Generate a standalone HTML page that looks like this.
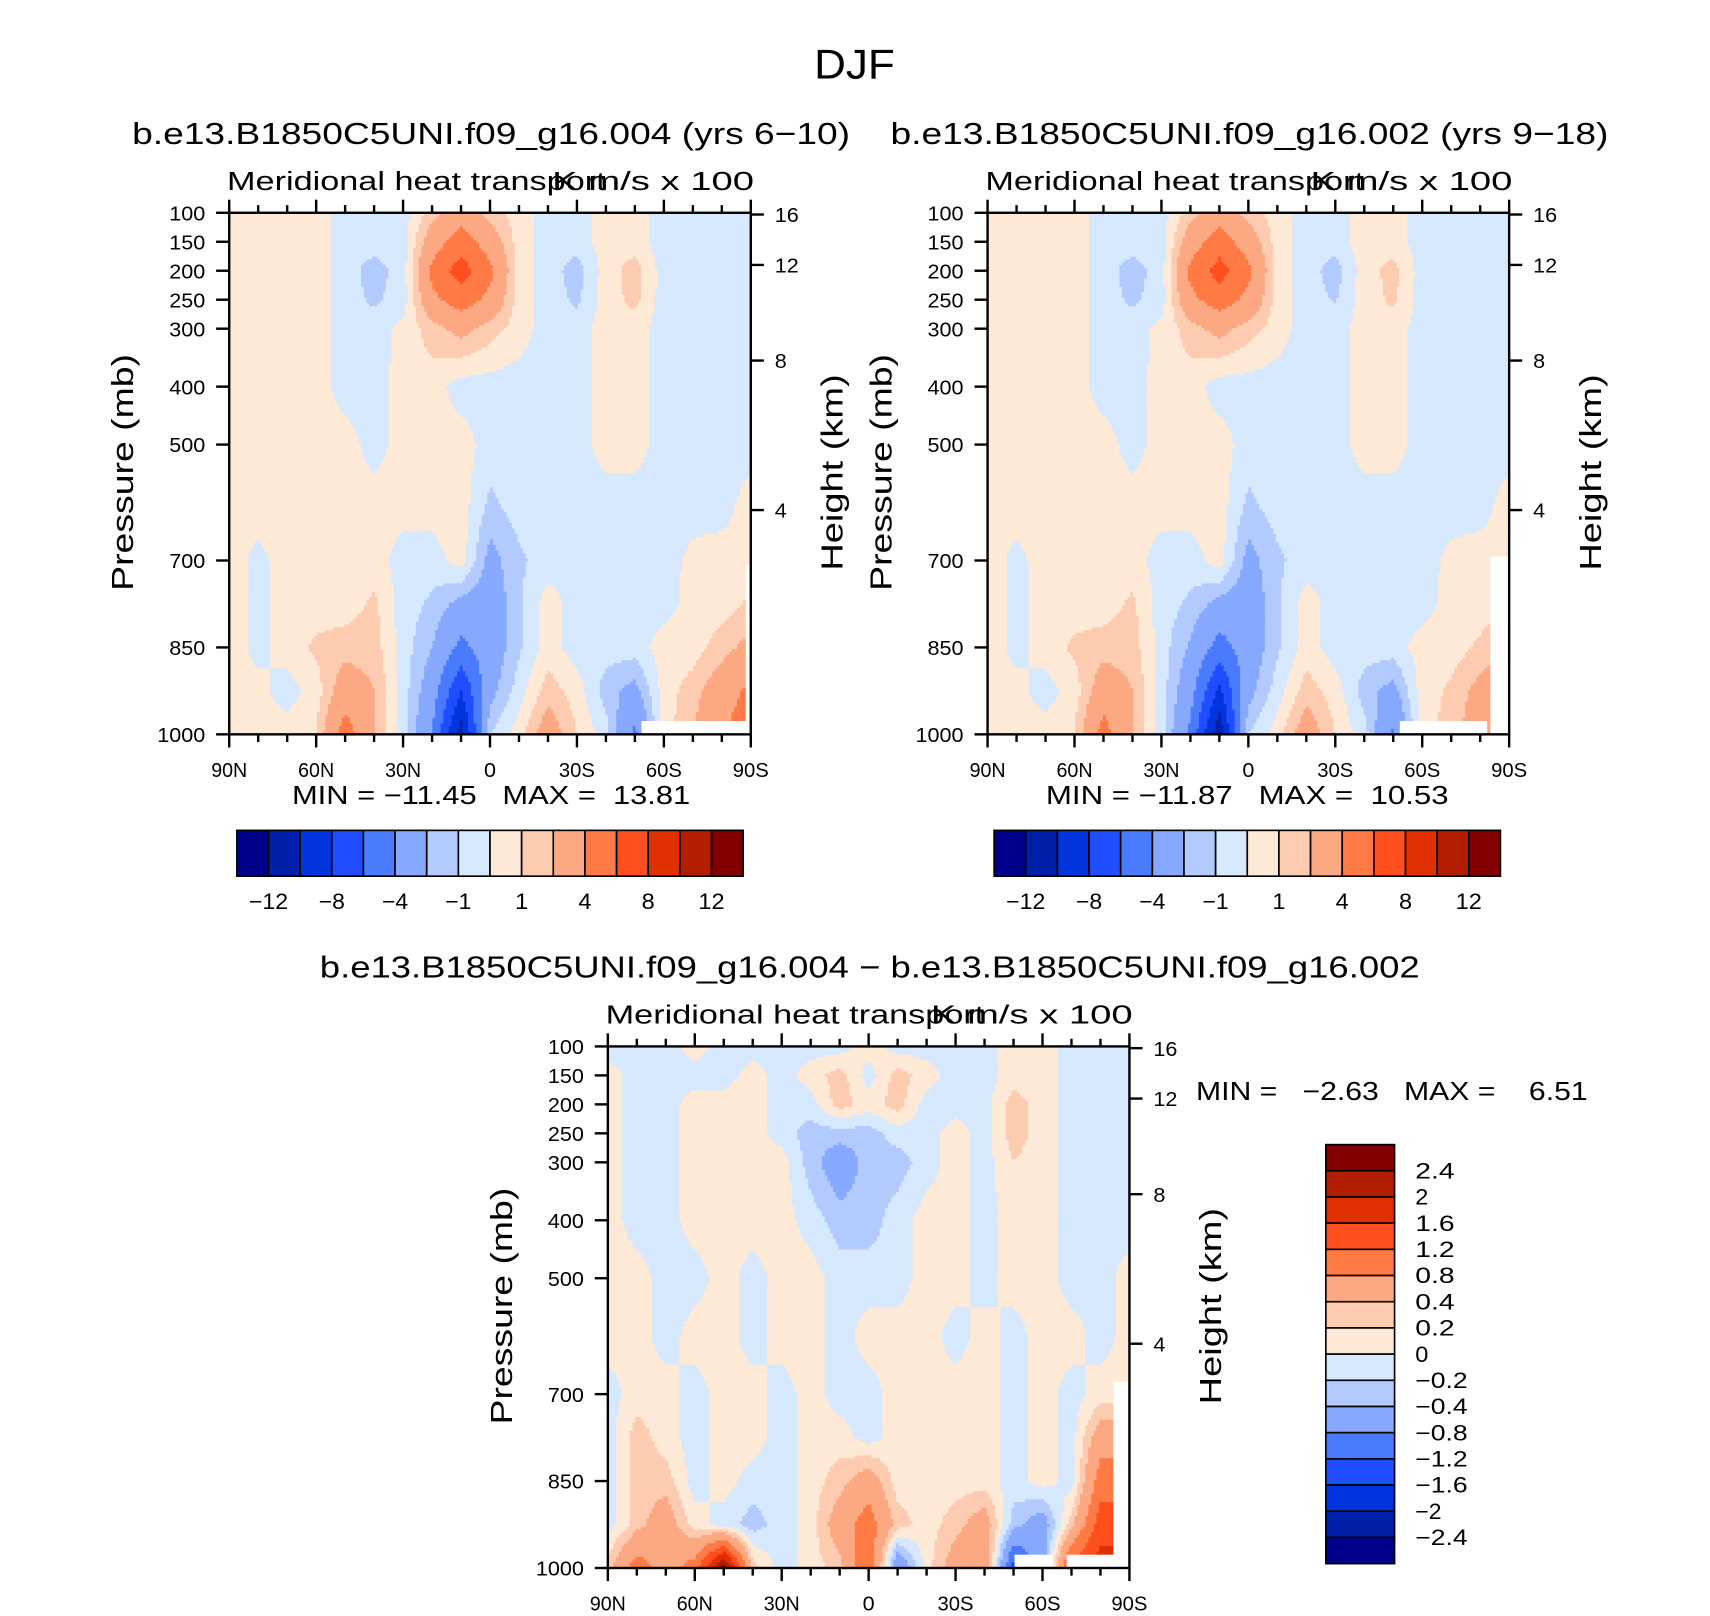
<!DOCTYPE html>
<html><head><meta charset="utf-8"><style>
html,body{margin:0;padding:0;background:#fff}
svg{display:block}
text{font-family:"Liberation Sans",sans-serif;fill:#000;white-space:pre}
</style></head><body>
<svg id="fig" width="1710" height="1616" viewBox="0 0 1567 1481" xmlns="http://www.w3.org/2000/svg" xml:space="preserve">
<text x="783" y="72" font-size="38" text-anchor="middle" textLength="74" lengthAdjust="spacingAndGlyphs">DJF</text>
<g id="g1"></g>
<g id="g2"></g>
<g id="g3"></g>
</svg>
<script>
const NS='http://www.w3.org/2000/svg';
const lats=[90,80,70,60,50,40,30,20,10,0,-10,-20,-30,-40,-50,-60,-70,-80,-90];
const pres=[100,150,200,250,300,400,500,600,700,775,850,925,1000];
const levelsAbs=[-12,-10,-8,-6,-4,-2,-1,0,1,2,4,6,8,10,12];
const levelsDiff=[-2.4,-2,-1.6,-1.2,-0.8,-0.4,-0.2,0,0.2,0.4,0.8,1.2,1.6,2,2.4];
const cbLabelsAbs=['−12','−8','−4','−1','1','4','8','12'];
const cbLabelsDiff=['2.4','2','1.6','1.2','0.8','0.4','0.2','0','−0.2','−0.4','−0.8','−1.2','−1.6','−2','−2.4'];
const colors=['#00008a','#0020aa','#0034dc','#1f4dff','#4a7bff','#86a8ff','#b3caff','#d6e8fd','#fee8d6','#fdcbb0','#fca883','#ff7a45','#ff4f1f','#e02f00','#b41e00','#820000'];
const latTicks=['90N','60N','30N','0','30S','60S','90S'];
const presTicks=[100,150,200,250,300,400,500,700,850,1000];
const heightTicks=[16,12,8,4];
const heightPres=[103,190,355,613];

const fieldA=[
[0.5,0.5,0.5,0.5,-0.5,-0.5,-0.5,1.5,3,1.5,0.5,-0.5,-0.5,0.5,0.5,-0.5,-0.5,-0.5,-0.5],
[0.5,0.5,0.5,0.5,-0.5,-0.5,-0.5,3,5,3,0.5,-0.5,-0.5,0.5,0.5,-0.5,-0.5,-0.5,-0.5],
[0.5,0.5,0.5,0.5,-0.5,-1.5,-0.5,4.5,7,4.5,0.5,-0.5,-1.5,0.5,1.5,-0.5,-0.5,-0.5,-0.5],
[0.5,0.5,0.5,0.5,-0.5,-1.2,-0.5,3.5,5,3.5,0.5,-0.5,-1.2,0.5,1.3,-0.5,-0.5,-0.5,-0.5],
[0.5,0.5,0.5,0.5,-0.5,-0.5,0.3,1.5,2.5,1.5,0.5,-0.5,-0.5,0.5,0.5,-0.5,-0.5,-0.5,-0.5],
[0.5,0.5,0.5,0.5,-0.5,-0.5,0.5,0.5,-0.5,-0.5,-0.5,-0.5,-0.5,0.5,0.5,-0.5,-0.5,-0.5,-0.5],
[0.5,0.5,0.5,0.5,0.5,-0.5,0.5,0.5,0.5,-0.5,-0.5,-0.5,-0.5,0.5,0.5,-0.5,-0.5,-0.5,-0.5],
[0.5,0.5,0.5,0.5,0.5,0.5,0.5,0.5,0.5,-1.2,-0.5,-0.5,-0.5,-0.5,-0.5,-0.5,-0.5,-0.5,0.5],
[0.5,-0.3,0.5,0.5,0.5,0.5,-0.5,-0.5,0.5,-2.5,-1.2,-0.5,-0.5,-0.5,-0.5,-0.5,0.3,0.5,0.5],
[0.5,-0.3,0.5,0.5,0.5,1.2,-0.5,-1.2,-2.5,-3,-1.2,0.5,-0.5,-0.5,-0.5,-0.5,0.5,0.5,1.2],
[0.5,-0.3,0.5,1.2,1.5,1.5,-0.5,-2,-4.5,-3,-1.2,0.5,-0.5,-0.5,-0.5,0.5,0.5,1.5,2.5],
[0.5,0.3,-0.5,0.5,3,2,-0.5,-3,-8,-2.5,-0.5,1.5,0.5,-1.5,-2.5,0.5,1.5,3,4.5],
[0.5,0.5,0.5,1,5,2,-0.5,-4,-11,-1,0.5,3,1,-0.5,-4.5,0.5,2,4,5]];
const fieldB=[
[0.5,0.5,0.5,0.5,-0.5,-0.5,-0.5,1.5,3,1.5,0.5,-0.5,-0.5,0.5,0.5,-0.5,-0.5,-0.5,-0.5],
[0.5,0.5,0.5,0.5,-0.5,-0.5,-0.5,3,5,3,0.5,-0.5,-0.5,0.5,0.5,-0.5,-0.5,-0.5,-0.5],
[0.5,0.5,0.5,0.5,-0.5,-1.5,-0.5,4.5,6.8,4.5,0.5,-0.5,-1.5,0.5,1.4,-0.5,-0.5,-0.5,-0.5],
[0.5,0.5,0.5,0.5,-0.5,-1.2,-0.5,3.5,5,3.5,0.5,-0.5,-1.1,0.5,1.2,-0.5,-0.5,-0.5,-0.5],
[0.5,0.5,0.5,0.5,-0.5,-0.5,0.3,1.5,2.5,1.5,0.5,-0.5,-0.5,0.5,0.5,-0.5,-0.5,-0.5,-0.5],
[0.5,0.5,0.5,0.5,-0.5,-0.5,0.5,0.5,-0.5,-0.5,-0.5,-0.5,-0.5,0.5,0.5,-0.5,-0.5,-0.5,-0.5],
[0.5,0.5,0.5,0.5,0.5,-0.5,0.5,0.5,0.5,-0.5,-0.5,-0.5,-0.5,0.5,0.5,-0.5,-0.5,-0.5,-0.5],
[0.5,0.5,0.5,0.5,0.5,0.5,0.5,0.5,0.5,-1.2,-0.5,-0.5,-0.5,-0.5,-0.5,-0.5,-0.5,-0.5,0.5],
[0.5,-0.3,0.5,0.5,0.5,0.5,-0.5,-0.5,0.5,-2.5,-1.2,-0.5,-0.5,-0.5,-0.5,-0.5,0.3,0.5,0.5],
[0.5,-0.3,0.5,0.5,0.5,1.2,-0.5,-1.2,-2.5,-3,-1.2,0.5,-0.5,-0.5,-0.5,-0.5,0.5,0.5,1.0],
[0.5,-0.3,0.5,1.2,1.5,1.5,-0.5,-2.2,-4.8,-3,-1.2,0.5,-0.5,-0.5,-0.5,0.5,0.5,1.2,2],
[0.5,0.3,-0.5,0.5,3,2,-0.5,-3.2,-8.5,-2.5,-0.5,1.5,0.5,-1.5,-2.5,0.5,1.2,2.5,3.5],
[0.5,0.5,0.5,1,4.8,2,-0.5,-4.5,-11.5,-1,0.5,3,1,-0.5,-4.3,0.5,1.5,3,4]];
const fieldC=[
[-0.1,-0.1,-0.1,0.1,-0.1,-0.1,-0.1,-0.1,-0.1,0.1,-0.1,-0.1,-0.1,-0.1,0.1,0.1,-0.1,-0.1,-0.1],
[0.1,-0.1,-0.1,-0.1,-0.1,0.1,-0.1,0.1,0.3,-0.1,0.3,0.1,-0.1,-0.1,0.1,0.1,-0.1,-0.1,-0.1],
[0.1,-0.1,-0.1,0.1,0.1,0.1,-0.1,-0.1,0.3,0.1,0.3,-0.1,-0.1,-0.1,0.3,0.1,-0.1,-0.1,-0.1],
[0.1,-0.1,-0.1,0.1,0.1,0.1,-0.1,-0.3,-0.3,-0.3,-0.1,-0.1,0.1,-0.1,0.3,0.1,-0.1,-0.1,-0.1],
[0.1,-0.1,-0.1,0.1,0.1,0.1,0.1,-0.3,-0.6,-0.3,-0.3,-0.1,0.1,-0.1,0.2,0.1,-0.1,-0.1,-0.1],
[0.1,-0.1,-0.1,0.1,0.1,0.1,0.1,-0.1,-0.3,-0.3,-0.1,0.1,0.1,-0.1,0.1,0.1,-0.1,-0.1,-0.1],
[0.1,0.1,-0.1,-0.1,0.1,-0.1,0.1,0.1,-0.1,-0.1,-0.1,0.1,0.1,-0.1,0.1,0.1,-0.1,-0.1,0.1],
[0.1,0.1,-0.1,0.1,0.1,-0.1,0.1,0.1,-0.1,0.1,0.1,0.1,-0.1,0.1,-0.1,0.1,0.1,-0.1,0.1],
[-0.1,0.1,0.1,-0.1,0.1,0.1,-0.1,0.1,-0.1,-0.1,0.1,0.1,0.1,0.1,-0.1,0.1,-0.1,0.1,0.1],
[-0.1,0.3,0.1,-0.1,0.1,0.1,-0.1,0.1,0.1,-0.1,0.1,0.1,0.1,0.1,-0.1,0.1,-0.1,0.6,0.6],
[-0.1,0.3,0.3,-0.1,0.1,-0.1,-0.1,0.1,0.3,0.6,0.1,0.1,0.1,0.1,-0.1,0.1,-0.1,1.0,1.0],
[-0.1,0.3,0.6,0.1,-0.1,-0.3,-0.1,0.1,0.6,1.0,0.3,0.1,0.3,0.6,-0.3,-0.6,0.3,1.4,1.4],
[0.3,1.0,0.6,1.0,2.6,0.3,-0.1,0.1,0.3,1.2,-0.8,0.1,0.6,0.8,-1.4,-0.6,1.4,1.8,1.8]];
const missingA=[[-52,-90,978,1000],[-88,-90,705,1000]];
const missingB=[[-52,-82,978,1000],[-83.5,-90,690,1000]];
const missingC=[[-50,-63,978,1000],[-84,-90,680,1000],[-68,-90,978,1000]];

function el(tag,attrs,parent){const e=document.createElementNS(NS,tag);for(const k in attrs)e.setAttribute(k,attrs[k]);parent.appendChild(e);return e;}
function txt(parent,x,y,s,size,anchor,name,len){const t=el('text',{x:x,y:y,'font-size':size,'text-anchor':anchor||'middle'},parent);t.textContent=s;
if(len){t.setAttribute('textLength',len);t.setAttribute('lengthAdjust','spacingAndGlyphs');}


return t;}
function sample(field,lat,p){
  let i=0;while(i<lats.length-2&&lat<lats[i+1])i++;
  let fx=(lats[i]-lat)/(lats[i]-lats[i+1]);
  let j=0;while(j<pres.length-2&&p>pres[j+1])j++;
  let fy=(p-pres[j])/(pres[j+1]-pres[j]);
  const a=field[j][i],b=field[j][i+1],c=field[j+1][i],d=field[j+1][i+1];
  return a*(1-fx)*(1-fy)+b*fx*(1-fy)+c*(1-fx)*fy+d*fx*fy;
}
function colorIdx(v,levels){let k=0;while(k<levels.length&&v>=levels[k])k++;return k;}
const num=s=>s.length*11;

function panel(g,X0,Y0,field,levels,missing,title,titleLen){
  const W=478,H=478;
  const xs=lat=>X0+(90-lat)/180*W;
  const ys=p=>Y0+(p-100)/900*H;
  const N=190,cell=W/N;
  const heat=el('g',{},g);
  
  
  for(let yi=0;yi<N;yi++){
    const y=yi*cell;
    const p=100+(y+cell/2)/H*900;
    let runStart=0,runC=-1;
    for(let xi=0;xi<=N;xi++){
      const x=xi*cell;
      let c=-2;
      if(xi<N){const lat=90-(x+cell/2)/W*180;c=colorIdx(sample(field,lat,p),levels);
        for(const m of missing){if(lat<=m[0]&&lat>=m[1]&&p>=m[2]&&p<=m[3])c=-1;}}
      if(c!==runC){
        if(runC>=0){const r=el('rect',{x:X0+runStart,y:Y0+y,width:x-runStart+0.4,height:cell+0.4,fill:colors[runC]},heat);
          
          }
        runStart=x;runC=c;}
    }
  }
  const ax=el('g',{stroke:'#000','stroke-width':2.2,fill:'none'},g);
  
  
  el('rect',{x:X0,y:Y0,width:W,height:H},ax);
  for(let lat=90;lat>=-90;lat-=10){const x=xs(lat),maj=lat%30===0;
    el('line',{x1:x,y1:Y0+H,x2:x,y2:Y0+H+(maj?12:7)},ax);
    el('line',{x1:x,y1:Y0,x2:x,y2:Y0-(maj?12:7)},ax);}
  latTicks.forEach((s,i)=>txt(g,xs(90-30*i),Y0+H+39,s,19,'middle','x-tick-label',num(s)));
  presTicks.forEach(p=>{el('line',{x1:X0,y1:ys(p),x2:X0-12,y2:ys(p)},ax);txt(g,X0-22,ys(p)+7,String(p),19,'end','y-tick-label',num(String(p)));});
  heightTicks.forEach((h,i)=>{const y=ys(heightPres[i]);el('line',{x1:X0+W,y1:y,x2:X0+W+12,y2:y},ax);txt(g,X0+W+22,y+7,String(h),19,'start','height-tick-label',num(String(h)));});
  const yl=txt(g,0,0,'Pressure (mb)',28,'middle','y-axis-title',217);yl.setAttribute('transform',`translate(${X0-88},${Y0+H/2-1}) rotate(-90)`);
  const hl=txt(g,0,0,'Height (km)',28,'middle','height-axis-title',180);hl.setAttribute('transform',`translate(${X0+W+84},${Y0+H/2-1}) rotate(-90)`);
  txt(g,X0-2,Y0-21,'Meridional heat transport',24,'start','left-subtitle',347);
  txt(g,X0+W+3,Y0-21,'K m/s x 100',24,'end','right-subtitle',185);
  txt(g,X0+W/2+1,Y0-63,title,28,'middle','panel-title',titleLen);
}
function hbar(g,x0,y0,labels){
  const bw=29;
  colors.forEach((c,i)=>{const r=el('rect',{x:x0+i*bw,y:y0,width:bw,height:42,fill:c,stroke:'#000','stroke-width':1.5},g);
    
    });
  labels.forEach((s,i)=>txt(g,x0+bw*(2*i+1),y0+72,s,20,'middle','colorbar-label',s.length*12));
}
const g1=document.getElementById('g1'),g2=document.getElementById('g2'),g3=document.getElementById('g3');
panel(g1,210,195,fieldA,levelsAbs,missingA,'b.e13.B1850C5UNI.f09_g16.004 (yrs 6−10)',658);
txt(g1,450,737,'MIN = −11.45   MAX =  13.81',24,'middle','min-max-text',365);
hbar(g1,217,761,cbLabelsAbs);
panel(g2,905,195,fieldB,levelsAbs,missingB,'b.e13.B1850C5UNI.f09_g16.002 (yrs 9−18)',658);
txt(g2,1143,737,'MIN = −11.87   MAX =  10.53',24,'middle','min-max-text',369);
hbar(g2,911,761,cbLabelsAbs);
panel(g3,557,959,fieldC,levelsDiff,missingC,'b.e13.B1850C5UNI.f09_g16.004 − b.e13.B1850C5UNI.f09_g16.002',1008);
txt(g3,1096,1008,'MIN =   −2.63   MAX =    6.51',24,'start','min-max-text',359);
(function(){const bh=24;const x0=1215,y0=1049;
  colors.slice().reverse().forEach((c,i)=>{const r=el('rect',{x:x0,y:y0+i*bh,width:63,height:bh,fill:c,stroke:'#000','stroke-width':1.5},g3);
    
    });
  cbLabelsDiff.forEach((s,i)=>txt(g3,x0+82,y0+bh*(i+1)+7,s,20,'start','colorbar-label',s.length*12));
})();
</script>
</body></html>
